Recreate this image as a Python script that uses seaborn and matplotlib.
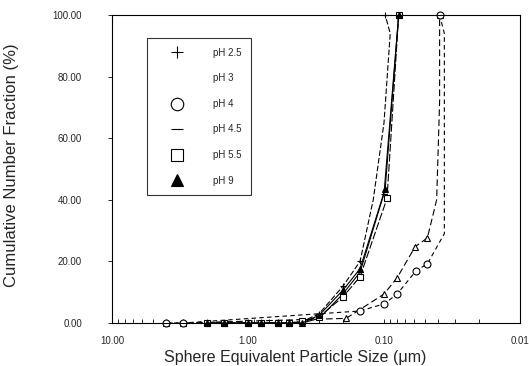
import matplotlib.pyplot as plt
import seaborn as sns
from matplotlib.lines import Line2D
from matplotlib.ticker import FixedLocator, LogLocator, NullFormatter

# sphere equivalent size (um) vs cumulative number fraction (%)
size_ph25 = [2.0, 1.5, 1.0, 0.8, 0.6, 0.5, 0.4, 0.3, 0.2, 0.15, 0.12, 0.1, 0.09, 0.098]
cum_ph25 = [0, 0, 0, 0, 0, 0, 0.5, 3, 12, 20, 40, 65, 94, 100]
size_ph3 = [4.0, 3.0, 0.19, 0.1, 0.08, 0.059, 0.048, 0.041, 0.039, 0.039]
cum_ph3 = [0, 0, 1.5, 9.4, 14.7, 24.8, 27.6, 40, 72, 100]
size_ph4 = [4.0, 3.0, 0.15, 0.1, 0.08, 0.058, 0.048, 0.036, 0.036, 0.039]
cum_ph4 = [0, 0, 3.9, 6.2, 9.4, 17, 19.2, 29, 94, 100]
size_ph45 = [2.0, 1.5, 1.0, 0.8, 0.6, 0.5, 0.4, 0.3, 0.2, 0.15, 0.1, 0.078]
cum_ph45 = [0, 0, 0, 0, 0, 0, 0, 1.5, 9.5, 16.5, 42, 100]
size_ph55 = [2.0, 1.5, 1.0, 0.8, 0.6, 0.5, 0.4, 0.3, 0.2, 0.15, 0.095, 0.078]
cum_ph55 = [0, 0, 0, 0, 0, 0, 0.5, 2, 8.5, 15, 40.5, 100]
size_ph9 = [2.0, 1.5, 1.0, 0.8, 0.6, 0.5, 0.4, 0.3, 0.2, 0.15, 0.098, 0.078]
cum_ph9 = [0, 0, 0, 0, 0, 0, 0, 2.5, 10.7, 17.6, 43.6, 100]

labels = ["pH 2.5", "pH 3", "pH 4", "pH 4.5", "pH 5.5", "pH 9"]
x_ticks = [10, 1, 0.1, 0.01]
x_ticklabels = ["10.00", "1.00", "0.10", "0.01"]
y_ticks = [0, 20, 40, 60, 80, 100]
y_ticklabels = ["0.00", "20.00", "40.00", "60.00", "80.00", "100.00"]

series = [
    (size_ph25, cum_ph25), (size_ph3, cum_ph3), (size_ph4, cum_ph4),
    (size_ph45, cum_ph45), (size_ph55, cum_ph55), (size_ph9, cum_ph9),
]
# marker, face colour, line style, which points carry a marker
styles = [
    dict(marker="+", mfc="k", ls=(0, (5, 2)), markevery=[0, 1, 2, 3, 4, 5, 6, 7, 8, 9, 13]),
    dict(marker="^", mfc="white", ls=(0, (6, 3)), markevery=[0, 1, 2, 3, 4, 5, 6, 9]),
    dict(marker="o", mfc="white", ls=(0, (4, 3)), markevery=[0, 1, 2, 3, 4, 5, 6, 9]),
    dict(marker="_", mfc="k", ls="-", markevery=None),
    dict(marker="s", mfc="white", ls=(0, (7, 2)), markevery=None),
    dict(marker="^", mfc="k", ls="-", markevery=None),
]

sns.set_style("ticks")
plt.rcParams["font.family"] = ["Liberation Sans", "DejaVu Sans"]

fig = plt.figure(figsize=(5.29, 3.66), dpi=100)
ax = fig.add_axes([112 / 529, 43 / 366, 408 / 529, 308 / 366])

for (sizes, cums), st in zip(series, styles):
    sns.lineplot(x=sizes, y=cums, ax=ax, sort=False, estimator=None, color="k",
                 lw=0.8, linestyle=st["ls"], marker=st["marker"], ms=5,
                 mfc=st["mfc"], mec="k", mew=0.8, markevery=st["markevery"],
                 clip_on=False, legend=False)

ax.set_xscale("log")
ax.set_xlim(10, 0.01)
ax.set_ylim(0, 100)
ax.xaxis.set_major_locator(FixedLocator(x_ticks))
ax.set_xticklabels(x_ticklabels)
ax.xaxis.set_minor_locator(LogLocator(base=10, subs=range(2, 10)))
ax.xaxis.set_minor_formatter(NullFormatter())
ax.set_yticks(y_ticks)
ax.set_yticklabels(y_ticklabels)

ax.tick_params(axis="x", which="both", direction="in", length=3, width=0.7,
               labelsize=7, pad=9)
ax.tick_params(axis="y", direction="out", length=3, width=0.7, labelsize=7, pad=18.5)
for sp in ax.spines.values():
    sp.set_visible(True)
    sp.set_linewidth(0.8)
    sp.set_color("k")

ax.set_xlabel("Sphere Equivalent Particle Size (\u03bcm)", fontsize=11.5)
ax.xaxis.set_label_coords(0.45, -0.088)
ax.set_ylabel("Cumulative Number Fraction (%)", fontsize=12)
ax.yaxis.set_label_coords(-0.228, 0.513)

# legend shows only the symbols, like the original
handles = []
for st in styles:
    mk = st["marker"] if st["marker"] != "^" or st["mfc"] == "k" else "None"
    handles.append(Line2D([], [], ls="None", marker=mk, ms=9, mfc=st["mfc"],
                          mec="k", mew=0.8, color="k"))
leg = ax.legend(handles, labels, loc="upper left", bbox_to_anchor=(0.086, 0.925),
                fontsize=7, frameon=True, fancybox=False, edgecolor="k",
                labelspacing=1.6, handletextpad=1.65, handlelength=4.1,
                borderpad=1.0, borderaxespad=0)
leg.get_frame().set_linewidth(0.8)

fig.savefig("out.png", dpi=100)
